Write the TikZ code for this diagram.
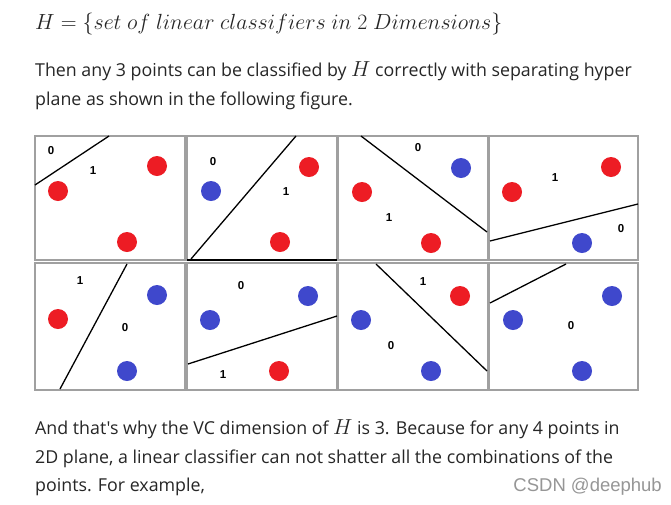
\documentclass[tikz,border=0pt]{standalone}
\usepackage{graphicx}
\usepackage{fontspec}
\setmainfont{Open Sans}[Ligatures=TeXOff]
\newfontfamily\markfont{Liberation Sans}
\usepackage{tikz}
\usetikzlibrary{positioning}
\definecolor{DotRed}{RGB}{237,28,36}
\definecolor{DotBlue}{RGB}{63,72,204}
\definecolor{FrameGray}{RGB}{160,160,160}
\definecolor{BodyText}{RGB}{38,38,38}
\definecolor{MarkGray}{RGB}{150,150,150}
\newcommand{\bigH}{{\fontsize{20.74}{22}\selectfont\scalebox{1.05}{$H$}}}

\begin{document}
\begin{tikzpicture}[
    x=1pt,
    y=-1pt,
%
    panel/.style={
        draw=FrameGray,
        line width=1.5pt
    },
%
    redpt/.style={
        circle,
        fill=DotRed,
        minimum size=20pt,
        inner sep=0pt
    },
%
    bluept/.style={
        circle,
        fill=DotBlue,
        minimum size=20pt,
        inner sep=0pt
    },
%
    sep/.style={
        line width=1.3pt,
        color=black
    },
%
    lbl/.style={
        font=\markfont\bfseries\fontsize{11.5}{11.5}\selectfont,
        inner sep=0pt
    },
%
    para/.style={
        anchor=base west,
        inner sep=0pt,
        font=\fontsize{17.8}{21}\selectfont,
        text=BodyText
    }
]
\fill[white] (0,0) rectangle (671,504);
\useasboundingbox (0,0) rectangle (671,504);
%
% Text above the figure.
%
\node[
    para,
    font=\fontsize{20.74}{24}\selectfont
] (title) at (35,29) {\resizebox{467pt}{!}{$H=\{set\ of\ linear\ classifiers\ in\ 2\ Dimensions\}$}};
\node[para] (then) at (35,76) {Then any 3 points can be classified by \bigH{} correctly with separating hyper};
\node[para] (plane) at (35,105) {plane as shown in the following figure.};
%
% Row 1: the four frames.
%
\draw[panel] (35,136) rectangle (185,260);
\draw[panel] (187,136) rectangle (337,260);
\draw[panel] (338,136) rectangle (488,260);
\draw[panel] (489,136) rectangle (638,260);
\draw[sep, line width=1.5pt] (187,260) -- (337,260);
%
% Row 1, panel 1: red, red, red.
%
\draw[sep] (35,185) -- (109,136);
\node[lbl] (la0) at (51,151) {0};
\node[lbl] (la1) at (93,171) {1};
\node[redpt] (a1) at (58,191) {};
\node[redpt] (a2) at (157,166) {};
\node[redpt] (a3) at (127,242) {};
%
% Row 1, panel 2: blue, red, red.
%
\draw[sep] (191,259) -- (296,136);
\node[lbl] (lb0) at (213,162) {0};
\node[lbl] (lb1) at (286,192) {1};
\node[bluept] (b1) at (211,191) {};
\node[redpt] (b2) at (309,167) {};
\node[redpt] (b3) at (280,242) {};
%
% Row 1, panel 3: red, blue, red.
%
\draw[sep] (361,136) -- (487,232);
\node[lbl] (lc0) at (418,148) {0};
\node[lbl] (lc1) at (389,218) {1};
\node[redpt] (c1) at (362,192) {};
\node[bluept] (c2) at (461,168) {};
\node[redpt] (c3) at (431,243) {};
%
% Row 1, panel 4: red, red, blue.
%
\draw[sep] (490,241) -- (638,204);
\node[lbl] (ld1) at (555,178) {1};
\node[lbl] (ld0) at (621,229) {0};
\node[redpt] (d1) at (512,192) {};
\node[redpt] (d2) at (611,167) {};
\node[bluept] (d3) at (582,243) {};
%
% Row 2: the four frames.
%
\draw[panel] (35,263) rectangle (185,390);
\draw[panel] (187,263) rectangle (337,390);
\draw[panel] (338,263) rectangle (488,390);
\draw[panel] (489,263) rectangle (638,390);
%
% Row 2, panel 5: red, blue, blue.
%
\draw[sep] (60,389) -- (127,264);
\node[lbl] (le1) at (80,281) {1};
\node[lbl] (le0) at (125,328) {0};
\node[redpt] (e1) at (58,319) {};
\node[bluept] (e2) at (157,295) {};
\node[bluept] (e3) at (127,371) {};
%
% Row 2, panel 6: blue, blue, red.
%
\draw[sep] (188,364) -- (337,316);
\node[lbl] (lf0) at (241,286) {0};
\node[lbl] (lf1) at (223,375) {1};
\node[bluept] (f1) at (210,320) {};
\node[bluept] (f2) at (308,296) {};
\node[redpt] (f3) at (279,371) {};
%
% Row 2, panel 7: blue, red, blue.
%
\draw[sep] (376,264) -- (487,371);
\node[lbl] (lg1) at (423,282) {1};
\node[lbl] (lg0) at (391,346) {0};
\node[bluept] (g1) at (361,320) {};
\node[redpt] (g2) at (460,296) {};
\node[bluept] (g3) at (431,371) {};
%
% Row 2, panel 8: blue, blue, blue.
%
\draw[sep] (490,303) -- (566,264);
\node[lbl] (lh0) at (571,326) {0};
\node[bluept] (h1) at (513,320) {};
\node[bluept] (h2) at (612,296) {};
\node[bluept] (h3) at (582,371) {};
%
% Text below the figure.
%
\node[para] (vc) at (35,434) {And that's why the VC dimension of \bigH{} is 3. Because for any 4 points in};
\node[para] (plane2) at (35,463) {2D plane, a linear classifier can not shatter all the combinations of the};
\node[para] (points) at (35,491) {points. For example,};
\node[
    anchor=base east,
    inner sep=0pt,
    font=\markfont\fontsize{18.5}{20}\selectfont,
    text=MarkGray
] (mark) at (662,491) {CSDN @deephub};
%
\end{tikzpicture}
\end{document}
